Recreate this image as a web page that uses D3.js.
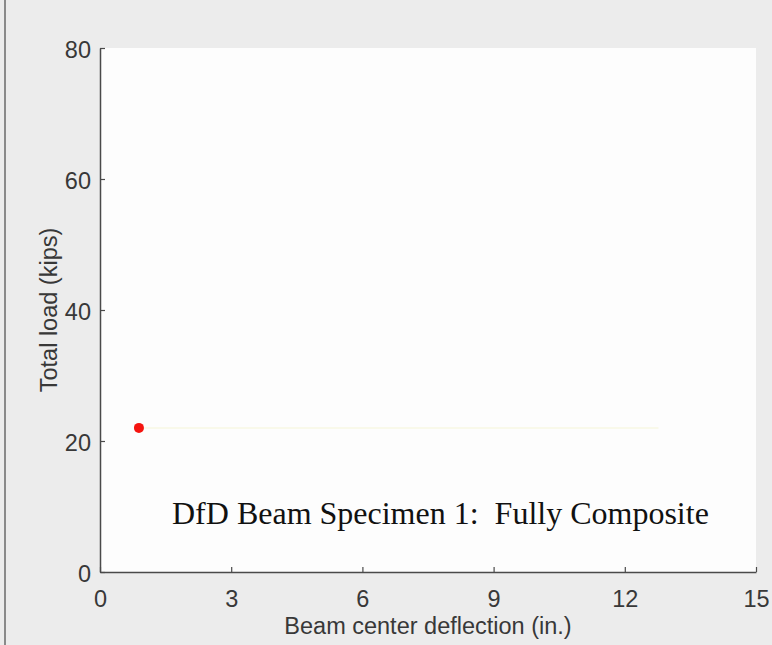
<!DOCTYPE html>
<html>
<head>
<meta charset="utf-8">
<title>DfD Beam Specimen 1</title>
<script src="https://cdn.jsdelivr.net/npm/d3@7"></script>
<style>
  html, body { margin: 0; padding: 0; background: #ececec; }
  svg { display: block; }
  .tick text { font-family: "Liberation Sans", Arial, sans-serif; }
</style>
</head>
<body>
<script>
// axis ranges and ticks
var xTicks = [0, 3, 6, 9, 12, 15],
    yTicks = [0, 20, 40, 60, 80];

// faint trace left on screen
var traceDeflection = [0.89, 12.77],
    traceLoad = [22.0, 22.0];

// current reading (red marker)
var pointDeflection = [0.89],
    pointLoad = [22.0];

var xLabel = "Beam center deflection (in.)",
    yLabel = "Total load (kips)",
    note = "DfD Beam Specimen 1:  Fully Composite";

function loadchart(){
  var width = 772,
      height = 645,
      margin = {top: 48, right: 16, bottom: 73, left: 100};

  var body = d3.select("body");

  var svg = body.append("svg")
      .attr("width", width)
      .attr("height", height);

  svg.append("rect")
    .attr("width", width)
    .attr("height", height)
    .style("fill", "#ececec");

  // thin frame line at the left edge
  svg.append("line")
    .attr("x1", 5).attr("x2", 5)
    .attr("y1", 0).attr("y2", height)
    .style("stroke", "#8a8a8a")
    .style("stroke-width", 2);

  var x = d3.scaleLinear()
    .domain([xTicks[0], xTicks[xTicks.length-1]])
    .range([margin.left, width - margin.right]);

  var y = d3.scaleLinear()
    .domain([yTicks[0], yTicks[yTicks.length-1]])
    .range([height - margin.bottom, margin.top]);

  svg.append("rect")
    .attr("x", x.range()[0])
    .attr("y", y.range()[1])
    .attr("width", x.range()[1] - x.range()[0])
    .attr("height", y.range()[0] - y.range()[1])
    .style("fill", "#fdfdfd");

  var trace = traceDeflection.map(function(d,i){ return [d, traceLoad[i]]; });

  svg.append("path")
    .datum(trace)
    .attr("d", d3.line()
      .x(function(d){ return x(d[0]); })
      .y(function(d){ return y(d[1]); }))
    .style("fill", "none")
    .style("stroke", "#f9f9ea")
    .style("stroke-width", 2);

  svg.selectAll(".marker")
    .data(pointDeflection)
  .enter().append("circle")
    .attr("class", "marker")
    .attr("cx", function(d){ return x(d); })
    .attr("cy", function(d,i){ return y(pointLoad[i]); })
    .attr("r", 5)
    .style("fill", "#f5140f");

  // axes, ticks point inward like matlab
  var xAxis = svg.append("g")
    .attr("transform", "translate(0," + y.range()[0] + ")")
    .call(d3.axisBottom(x).tickValues(xTicks).tickSizeInner(-5).tickSizeOuter(0).tickPadding(18));

  var yAxis = svg.append("g")
    .attr("transform", "translate(" + x.range()[0] + ",0)")
    .call(d3.axisLeft(y).tickValues(yTicks).tickSizeInner(-5).tickSizeOuter(0).tickPadding(9));

  [xAxis, yAxis].forEach(function(a){
    a.select(".domain").style("stroke", "#4a4a4a").style("stroke-width", 1.5);
    a.selectAll(".tick line").style("stroke", "#4a4a4a").style("stroke-width", 1.2);
    a.selectAll(".tick text")
      .style("font-size", "23.5px")
      .style("fill", "#383838");
  });

  xAxis.selectAll(".tick text").attr("dy", "0.71em");
  yAxis.selectAll(".tick text").attr("dy", "0.4em");

  svg.append("text")
    .attr("x", (x.range()[0] + x.range()[1]) / 2)
    .attr("y", 634)
    .attr("text-anchor", "middle")
    .style("font-family", "'Liberation Sans', Arial, sans-serif")
    .style("font-size", "23.5px")
    .style("fill", "#383838")
    .text(xLabel);

  svg.append("text")
    .attr("transform", "translate(57," + ((y.range()[0] + y.range()[1]) / 2) + ")rotate(-90)")
    .attr("text-anchor", "middle")
    .style("font-family", "'Liberation Sans', Arial, sans-serif")
    .style("font-size", "23.5px")
    .style("fill", "#383838")
    .text(yLabel);

  svg.append("text")
    .attr("x", 172)
    .attr("y", 524)
    .style("font-family", "'Liberation Serif', 'Times New Roman', serif")
    .style("font-size", "32px")
    .style("white-space", "pre")
    .style("fill", "#111")
    .text(note);
}

window.onload = function(){
  loadchart();
};
</script>
</body>
</html>
